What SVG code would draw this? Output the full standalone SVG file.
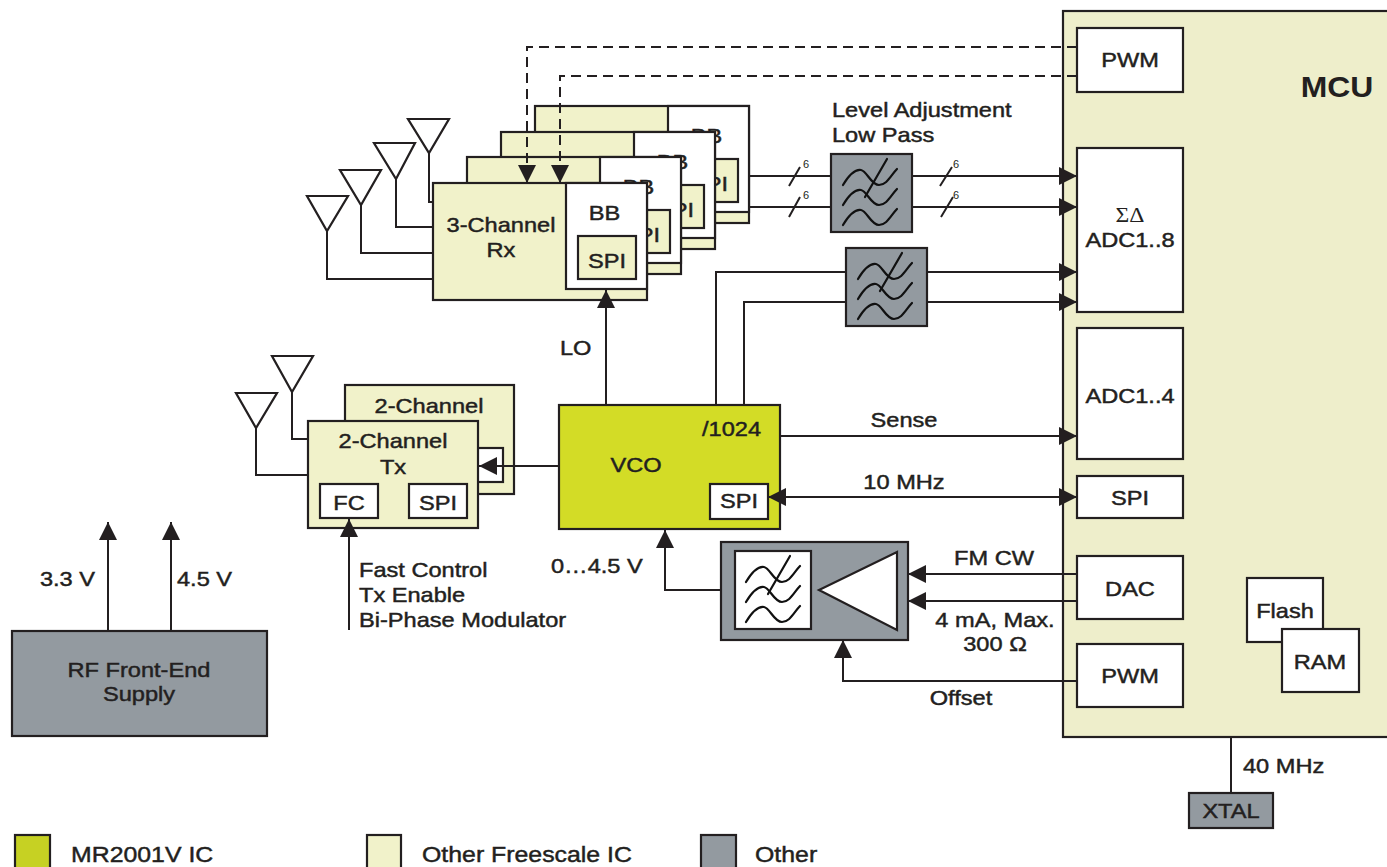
<svg xmlns="http://www.w3.org/2000/svg" width="1387" height="867" viewBox="0 0 1387 867">
<style>
.t{font-family:"Liberation Sans",Arial,sans-serif;font-size:20px;fill:#231f20;stroke:#231f20;stroke-width:0.45}
.lg{font-size:22px}
.m{text-anchor:middle}
.e{text-anchor:end}
.s{font-family:"Liberation Sans",Arial,sans-serif;font-size:11px;fill:#231f20}
.b{stroke:#231f20;stroke-width:2.2}
.yl{fill:#f1f2ca}
.wh{fill:#ffffff}
.gr{fill:#939aa0}
.vc{fill:#d3dc26}
.mc{fill:#eeeecb}
.ln{fill:none;stroke:#231f20;stroke-width:2}
.dash{fill:none;stroke:#231f20;stroke-width:2;stroke-dasharray:10,6}
.ar{marker-end:url(#ah)}
.wave{fill:none;stroke:#111;stroke-width:2.2;stroke-linecap:round}
</style>
<defs>
<marker id="ah" viewBox="0 0 18 18" refX="18" refY="9" markerWidth="18" markerHeight="18" markerUnits="userSpaceOnUse" orient="auto-start-reverse">
<path d="M0,0 L18,9 L0,18 z" fill="#231f20"/>
</marker>
<g id="glyph">
<path class="wave" d="M12,31 C18,21 24,15 30,16 S40,31 48,31 S60,21 66,15"/>
<path class="wave" d="M12,51 C18,41 24,35 30,36 S40,51 48,51 S60,41 66,35"/>
<path class="wave" d="M12,71 C18,61 24,55 30,56 S40,71 48,71 S60,61 66,55"/>
<path class="wave" d="M34,43 L56,5"/>
</g>
</defs>
<rect width="1387" height="867" fill="#ffffff"/>

<!-- MCU -->
<g id="mcu">
<rect class="b mc" x="1063" y="11" width="330" height="726"/>
<text class="t" style="font-size:29px;font-weight:bold;stroke-width:0" transform="translate(1337,97) scale(1.1,1)" text-anchor="middle">MCU</text>
<g id="mcu-pwm1"><rect class="b wh" x="1077" y="28" width="106" height="64"/><text class="t m" transform="translate(1130,67) scale(1.18,1)">PWM</text></g>
<g id="mcu-adc8"><rect class="b wh" x="1077" y="148" width="106" height="164"/>
<text class="m" style="font-family:'Liberation Serif','Times New Roman',serif;font-size:20px;fill:#231f20" transform="translate(1130,222) scale(1.18,1)">ΣΔ</text>
<text class="t m" transform="translate(1130,247) scale(1.18,1)">ADC1..8</text></g>
<g id="mcu-adc4"><rect class="b wh" x="1077" y="328" width="106" height="131"/><text class="t m" transform="translate(1130,403) scale(1.18,1)">ADC1..4</text></g>
<g id="mcu-spi"><rect class="b wh" x="1077" y="476" width="106" height="42"/><text class="t m" transform="translate(1130,505) scale(1.18,1)">SPI</text></g>
<g id="mcu-dac"><rect class="b wh" x="1077" y="556" width="106" height="63"/><text class="t m" transform="translate(1130,596) scale(1.18,1)">DAC</text></g>
<g id="mcu-pwm2"><rect class="b wh" x="1077" y="644" width="106" height="63"/><text class="t m" transform="translate(1130,683) scale(1.18,1)">PWM</text></g>
<g id="mcu-flash"><rect class="b wh" x="1247" y="578" width="76" height="64"/><text class="t m" transform="translate(1285,618) scale(1.18,1)">Flash</text></g>
<g id="mcu-ram"><rect class="b wh" x="1282" y="629" width="77" height="63"/><text class="t m" transform="translate(1320,669) scale(1.18,1)">RAM</text></g>
</g>

<g id="xtal">
<rect class="b gr" x="1189" y="793" width="84" height="35"/>
<text class="t m" transform="translate(1231,818) scale(1.18,1)">XTAL</text>
</g>

<!-- Rx stack -->
<g id="rx-layer4">
<rect class="b yl" x="535" y="106" width="214" height="117"/>
<rect class="b wh" x="668" y="106" width="81" height="106"/>
<text class="t m" transform="translate(706.5,143) scale(1.18,1)">BB</text>
<rect class="b yl" x="680" y="159" width="58" height="43"/>
<text class="t m" transform="translate(709,191) scale(1.18,1)">SPI</text>
</g>
<g id="rx-layer3">
<rect class="b yl" x="501" y="132" width="214" height="117"/>
<rect class="b wh" x="634" y="132" width="81" height="106"/>
<text class="t m" transform="translate(672.5,169) scale(1.18,1)">BB</text>
<rect class="b yl" x="646" y="185" width="58" height="43"/>
<text class="t m" transform="translate(675,217) scale(1.18,1)">SPI</text>
</g>
<g id="rx-layer2">
<rect class="b yl" x="467" y="157" width="214" height="117"/>
<rect class="b wh" x="600" y="157" width="81" height="106"/>
<text class="t m" transform="translate(638.5,194) scale(1.18,1)">BB</text>
<rect class="b yl" x="612" y="210" width="58" height="43"/>
<text class="t m" transform="translate(641,242) scale(1.18,1)">SPI</text>
</g>
<g id="rx-front">
<rect class="b yl" x="433" y="183" width="214" height="117"/>
<rect class="b wh" x="566" y="183" width="81" height="106"/>
<text class="t m" transform="translate(604.5,220) scale(1.18,1)">BB</text>
<rect class="b yl" x="578" y="236" width="58" height="43"/>
<text class="t m" transform="translate(607,268) scale(1.18,1)">SPI</text>
<text class="t m" transform="translate(501,232) scale(1.18,1)">3-Channel</text>
<text class="t m" transform="translate(501,257) scale(1.18,1)">Rx</text>
</g>

<!-- Rx antennas -->
<g id="rx-antennas">
<polygon class="b wh" points="307,196 348,196 327,231"/>
<polygon class="b wh" points="340,170 381,170 361,205"/>
<polygon class="b wh" points="374,143 415,143 396,179"/>
<polygon class="b wh" points="408,119 449,119 429,153"/>
</g>

<!-- Level adjustment filter -->
<g id="filter-level">
<rect class="b gr" x="831" y="154" width="81" height="78"/>
<use href="#glyph" x="831" y="154"/>
<text class="t" transform="translate(832,117) scale(1.18,1)">Level Adjustment</text>
<text class="t" transform="translate(832,142) scale(1.18,1)">Low Pass</text>
</g>
<g id="filter-2">
<rect class="b gr" x="846" y="248" width="81" height="78"/>
<use href="#glyph" x="846" y="248"/>
</g>

<!-- Tx -->
<g id="tx-back">
<rect class="b yl" x="345" y="385" width="169" height="109"/>
<rect class="b wh" x="477" y="448" width="26" height="34"/>
<text class="t m" transform="translate(429,413) scale(1.18,1)">2-Channel</text>
</g>
<g id="tx-front">
<rect class="b yl" x="308" y="421" width="170" height="107"/>
<text class="t m" transform="translate(393,448) scale(1.18,1)">2-Channel</text>
<text class="t m" transform="translate(393,474) scale(1.18,1)">Tx</text>
<rect class="b wh" x="320" y="484" width="58" height="34"/>
<text class="t m" transform="translate(349,510) scale(1.18,1)">FC</text>
<rect class="b wh" x="409" y="484" width="58" height="34"/>
<text class="t m" transform="translate(438,510) scale(1.18,1)">SPI</text>
</g>
<g id="tx-antennas">
<polygon class="b wh" points="236,393 277,393 256,428"/>
<polygon class="b wh" points="272,356 313,356 292,392"/>
</g>

<!-- VCO -->
<g id="vco">
<rect class="b vc" x="559" y="405" width="221" height="124"/>
<text class="t e" transform="translate(761,436) scale(1.18,1)">/1024</text>
<text class="t m" transform="translate(636,472) scale(1.18,1)">VCO</text>
<rect class="b wh" x="710" y="484" width="58" height="35"/>
<text class="t m" transform="translate(739,508) scale(1.18,1)">SPI</text>
</g>

<!-- Amp / loop filter -->
<g id="amp">
<rect class="b gr" x="721" y="542" width="187" height="98"/>
<rect class="b wh" x="735" y="551" width="76" height="78"/>
<use href="#glyph" x="734" y="551"/>
<polygon class="b wh" points="897,552 897,630 819,590"/>
</g>

<!-- Supply -->
<g id="supply">
<rect class="b gr" x="12" y="631" width="255" height="105"/>
<text class="t m" transform="translate(139,677) scale(1.18,1)">RF Front-End</text>
<text class="t m" transform="translate(139,701) scale(1.18,1)">Supply</text>
</g>

<!-- Connectors -->
<g id="connectors">
<path class="dash" d="M1077,47 H527 V172"/>
<path class="dash" d="M1077,76 H560 V172"/>
<path class="ln ar" d="M527,170 V183"/>
<path class="ln ar" d="M560,170 V183"/>

<path class="ln" d="M327,231 V279 H433"/>
<path class="ln" d="M361,205 V253 H433"/>
<path class="ln" d="M396,179 V227 H433"/>
<path class="ln" d="M429,153 V202 H433"/>

<path class="ln" d="M749,176 H831"/>
<path class="ln" d="M749,207 H831"/>
<path class="ln ar" d="M912,176 H1077"/>
<path class="ln ar" d="M912,207 H1077"/>
<path class="ln" d="M789,186 L800,167 M789,217 L800,197 M940,186 L952,167 M941,217 L953,197"/>

<path class="ln" d="M716,405 V272 H846"/>
<path class="ln" d="M744,405 V302 H846"/>
<path class="ln ar" d="M927,272 H1077"/>
<path class="ln ar" d="M927,302 H1077"/>

<path class="ln ar" d="M606,405 V290"/>
<path class="ln ar" d="M780,436 H1077"/>
<path class="ln ar" d="M768,497 H1077" marker-start="url(#ah)"/>
<path class="ln ar" d="M559,466 H479"/>

<path class="ln" d="M256,428 V475 H308"/>
<path class="ln" d="M292,392 V439 H308"/>
<path class="ln ar" d="M349,630 V519"/>

<path class="ln ar" d="M1077,574 H908"/>
<path class="ln ar" d="M1077,601 H908"/>
<path class="ln ar" d="M1077,681 H843 V640"/>
<path class="ln ar" d="M721,590 H665 V530"/>

<path class="ln ar" d="M108,631 V522"/>
<path class="ln ar" d="M171,631 V522"/>
<path class="ln" d="M1231,737 V793"/>
</g>

<!-- Connector labels -->
<g id="labels">
<text class="s" x="803" y="168">6</text>
<text class="s" x="803" y="199">6</text>
<text class="s" x="953" y="168">6</text>
<text class="s" x="953" y="199">6</text>
<text class="t" transform="translate(560,355) scale(1.18,1)">LO</text>
<text class="t m" transform="translate(904,427) scale(1.18,1)">Sense</text>
<text class="t m" transform="translate(904,489) scale(1.18,1)">10 MHz</text>
<text class="t m" transform="translate(994,565) scale(1.18,1)">FM CW</text>
<text class="t m" transform="translate(995,627) scale(1.18,1)">4 mA, Max.</text>
<text class="t m" transform="translate(995,651) scale(1.18,1)">300 Ω</text>
<text class="t m" transform="translate(961,705) scale(1.18,1)">Offset</text>
<text class="t" transform="translate(551,573) scale(1.18,1)">0…4.5 V</text>
<text class="t" transform="translate(359,577) scale(1.18,1)">Fast Control</text>
<text class="t" transform="translate(359,602) scale(1.18,1)">Tx Enable</text>
<text class="t" transform="translate(359,627) scale(1.18,1)">Bi-Phase Modulator</text>
<text class="t e" transform="translate(95,586) scale(1.18,1)">3.3 V</text>
<text class="t" transform="translate(177,586) scale(1.18,1)">4.5 V</text>
<text class="t" transform="translate(1243,773) scale(1.18,1)">40 MHz</text>
</g>

<!-- Legend -->
<g id="legend">
<rect class="b" x="15" y="835" width="35" height="40" fill="#c6d123"/>
<text class="t lg" transform="translate(71,862) scale(1.13,1)">MR2001V IC</text>
<rect class="b yl" x="367" y="835" width="34" height="40"/>
<text class="t lg" transform="translate(422,862) scale(1.13,1)">Other Freescale IC</text>
<rect class="b gr" x="701" y="835" width="35" height="40"/>
<text class="t lg" transform="translate(755,862) scale(1.13,1)">Other</text>
</g>
</svg>
